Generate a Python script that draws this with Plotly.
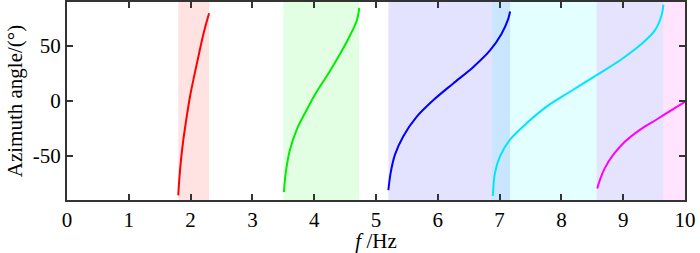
import plotly.graph_objects as go

# ---- data ----
red_f = [1.80, 1.817, 1.845, 1.883, 1.937, 1.99, 2.055, 2.125, 2.195, 2.25, 2.30]
red_a = [-85.8, -71.4, -53.3, -35.2, -14.2, 3.9, 22.0, 40.0, 58.0, 70.0, 79.8]

green_f = [3.51, 3.539, 3.608, 3.716, 3.878, 4.04, 4.23, 4.42, 4.58, 4.69, 4.73]
green_a = [-82.8, -65.3, -44.3, -26.2, -8.1, 8.4, 25.0, 43.0, 59.6, 73.2, 84.6]

blue_f = [5.20, 5.237, 5.307, 5.44, 5.66, 5.93, 6.25, 6.575, 6.845, 7.03, 7.14, 7.17]
blue_a = [-81.0, -65.3, -48.8, -32.2, -14.2, 0.9, 16.0, 31.0, 46.0, 61.0, 74.7, 81.3]

cyan_f = [6.89, 6.925, 7.006, 7.168, 7.44, 7.76, 8.14, 8.57, 8.95, 9.27, 9.51, 9.62, 9.65]
cyan_a = [-86.4, -65.3, -50.3, -35.2, -20.1, -5.1, 8.4, 23.5, 37.0, 50.6, 64.0, 77.7, 87.6]

mag_f = [8.58, 8.625, 8.705, 8.84, 9.03, 9.27, 9.54, 9.81, 10.0]
mag_a = [-79.5, -71.4, -60.8, -48.8, -36.8, -26.2, -16.8, -7.3, -0.8]

band_start = [1.80, 3.50, 5.20, 6.88, 8.57]
band_end = [2.30, 4.73, 7.17, 9.65, 10.0]
band_colors = ["#ff0000", "#00ff00", "#0000ff", "#00ffff", "#ff00ff"]

x_ticks = [0, 1, 2, 3, 4, 5, 6, 7, 8, 9, 10]
y_ticks = [-50, 0, 50]

series = [
    (red_f, red_a, "#ff0000"),
    (green_f, green_a, "#00ee00"),
    (blue_f, blue_a, "#0000ff"),
    (cyan_f, cyan_a, "#00e5ff"),
    (mag_f, mag_a, "#ff00ff"),
]

fig = go.Figure()

for s, e, c in zip(band_start, band_end, band_colors):
    fig.add_vrect(x0=s, x1=e, fillcolor=c, opacity=0.11, line_width=0, layer="below")

for fx, fy, c in series:
    fig.add_trace(go.Scatter(x=fx, y=fy, mode="lines",
                             line=dict(color=c, width=2, shape="spline", smoothing=0.9),
                             showlegend=False, hoverinfo="skip"))

font_family = "Liberation Serif"

fig.update_layout(
    width=700, height=253,
    margin=dict(l=67, r=15, t=2, b=53),
    paper_bgcolor="white", plot_bgcolor="rgba(0,0,0,0)",
    font=dict(family=font_family, size=21, color="black"),
)

fig.update_xaxes(
    range=[0, 10], tickvals=x_ticks, ticktext=[str(v) for v in x_ticks],
    ticks="inside", ticklen=6, tickwidth=1.5, tickcolor="#333",
    showline=True, linecolor="#333", linewidth=2, mirror="allticks",
    showgrid=False, zeroline=False, automargin=False,
    tickfont=dict(family=font_family, size=21),
    title=dict(text="<i>f</i> /Hz", font=dict(family=font_family, size=21), standoff=2),
)
fig.update_yaxes(
    range=[-90, 90], tickvals=y_ticks, ticktext=[str(v) for v in y_ticks],
    ticks="inside", ticklen=6, tickwidth=1.5, tickcolor="#333",
    showline=True, linecolor="#333", linewidth=2, mirror="allticks",
    showgrid=False, zeroline=False, automargin=False,
    tickfont=dict(family=font_family, size=21),
    title=dict(text="Azimuth angle/(°)", font=dict(family=font_family, size=21), standoff=4),
)

fig.write_html("out.html", config={"displayModeBar": False},
               post_script="document.body.style.margin='0';")
